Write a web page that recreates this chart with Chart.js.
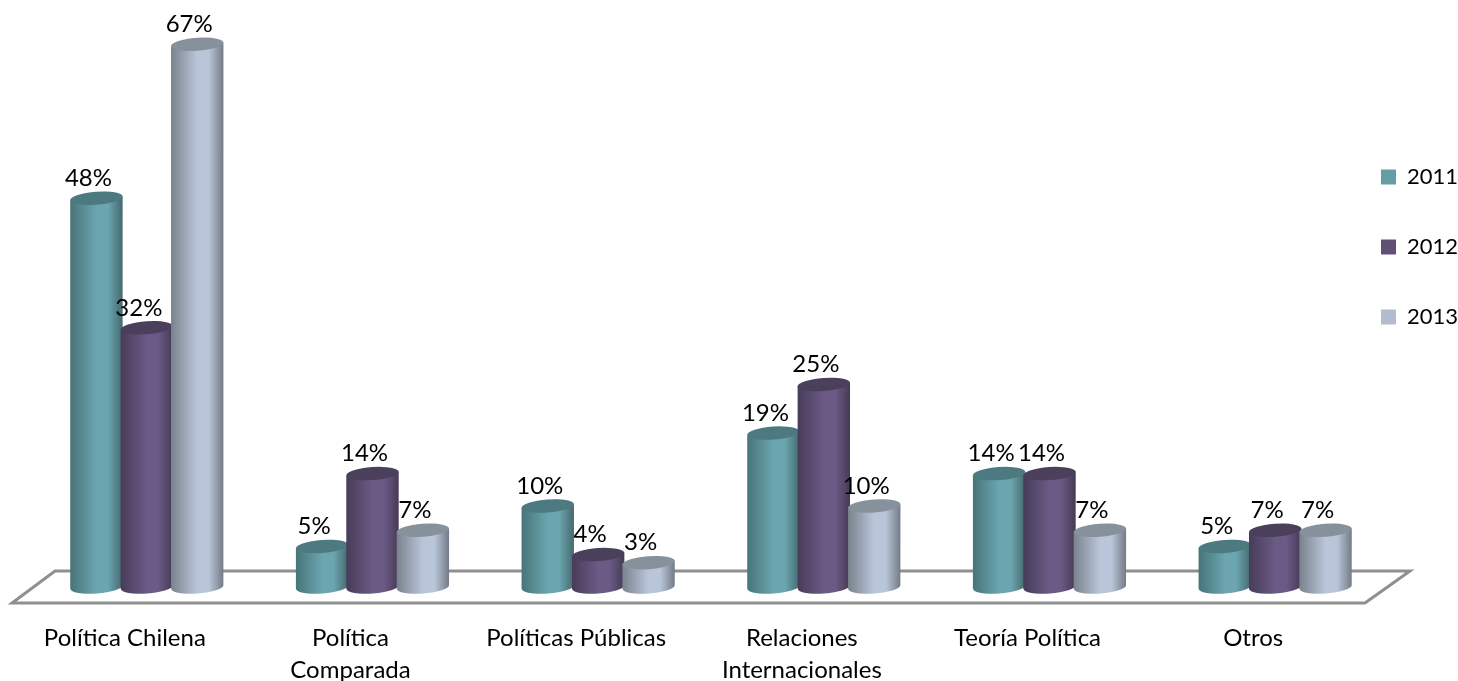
<!DOCTYPE html>
<html>
<head>
<meta charset="utf-8">
<title>Chart</title>
<script src="https://cdn.jsdelivr.net/npm/chart.js@4"></script>
<style>
    html, body { margin: 0; padding: 0; background: #ffffff; }
    canvas { display: block; }
</style>
</head>
<body>
<canvas id="barChart" width="1458" height="681"></canvas>
<script>
const categories = ['Política Chilena', ['Política', 'Comparada'], 'Políticas Públicas',
    ['Relaciones', 'Internacionales'], 'Teoría Política', 'Otros'];
const values2011 = [48, 5, 10, 19, 14, 5];
const values2012 = [32, 14, 4, 25, 14, 7];
const values2013 = [67, 7, 3, 10, 7, 7];

const FONT = 'Lato, Carlito, sans-serif';

// body gradient stops and cap colour per series
const shades = [
    { left: '#477479', mid: '#6ba5af', right: '#44696e', cap: '#4c7a80' },
    { left: '#473c59', mid: '#6b5a85', right: '#453a55', cap: '#4b405c' },
    { left: '#7a828c', mid: '#b9c6da', right: '#737b85', cap: '#87919c' }
];

// floor is a parallelogram around the zero line
function drawFloor(chart) {
    const { ctx, chartArea, scales } = chart;
    const y0 = scales.y.getPixelForValue(0);
    ctx.save();
    ctx.strokeStyle = '#8f8f8f';
    ctx.lineWidth = 3;
    ctx.lineJoin = 'miter';
    ctx.beginPath();
    ctx.moveTo(chartArea.left + 21, y0 - 16);
    ctx.lineTo(chartArea.right + 22, y0 - 16);
    ctx.lineTo(chartArea.right - 23, y0 + 16);
    ctx.lineTo(chartArea.left - 22, y0 + 16);
    ctx.closePath();
    ctx.stroke();
    ctx.restore();
}

// cylinder built on the geometry of one bar element
function drawCylinder(ctx, bar, shade) {
    const rx = bar.width / 2 + 1;
    const ry = 6.5;
    const tilt = -4 * Math.PI / 180;
    const dy = Math.sin(tilt) * rx;

    const grad = ctx.createLinearGradient(bar.x - rx, 0, bar.x + rx, 0);
    grad.addColorStop(0, shade.left);
    grad.addColorStop(0.5, shade.mid);
    grad.addColorStop(0.72, shade.mid);
    grad.addColorStop(1, shade.right);

    ctx.fillStyle = grad;
    ctx.beginPath();
    ctx.moveTo(bar.x - rx, bar.y - dy);
    ctx.lineTo(bar.x - rx, bar.base - dy);
    ctx.ellipse(bar.x, bar.base, rx, ry, tilt, Math.PI, 0, true);
    ctx.lineTo(bar.x + rx, bar.y + dy);
    ctx.closePath();
    ctx.fill();

    ctx.fillStyle = shade.cap;
    ctx.beginPath();
    ctx.ellipse(bar.x, bar.y, rx, ry, tilt, 0, Math.PI * 2);
    ctx.fill();
}

const cylinderPlugin = {
    id: 'cylinders',
    afterLayout(chart) {
        // legend stays inside the plot, above the floor corner
        const legend = chart.legend;
        legend.left = 1333;
        legend.right = 1458;
        legend.top = 118;
        legend.bottom = 420;
    },
    beforeDatasetDraw() {
        return false;
    },
    afterDatasetsDraw(chart) {
        const ctx = chart.ctx;
        drawFloor(chart);
        const metas = chart.data.datasets.map((d, i) => chart.getDatasetMeta(i));

        categories.forEach((c, i) => {
            metas.forEach((meta, s) => drawCylinder(ctx, meta.data[i], shades[s]));
        });

        ctx.save();
        ctx.fillStyle = '#000000';
        ctx.font = '24px ' + FONT;
        ctx.textAlign = 'center';
        ctx.textBaseline = 'middle';
        metas.forEach((meta, s) => {
            meta.data.forEach((bar, i) => {
                ctx.fillText(chart.data.datasets[s].data[i] + '%', bar.x - 8, bar.y - 20);
            });
        });
        ctx.restore();
    }
};

new Chart(document.getElementById('barChart'), {
    type: 'bar',
    data: {
        labels: categories,
        datasets: [
            { label: '2011', data: values2011, backgroundColor: '#659ca6' },
            { label: '2012', data: values2012, backgroundColor: '#5f5074' },
            { label: '2013', data: values2013, backgroundColor: '#b2bccc' }
        ]
    },
    plugins: [cylinderPlugin],
    options: {
        responsive: false,
        animation: false,
        categoryPercentage: 0.67,
        barPercentage: 1,
        layout: {
            padding: { left: 34, right: 70, top: 20, bottom: 0 }
        },
        plugins: {
            title: { display: false },
            tooltip: { enabled: false },
            legend: {
                position: 'chartArea',
                align: 'start',
                labels: {
                    boxWidth: 15,
                    boxHeight: 15,
                    padding: 48,
                    color: '#000000',
                    font: { family: FONT, size: 22 }
                }
            }
        },
        scales: {
            y: {
                display: false,
                min: 0,
                max: 70
            },
            x: {
                afterFit(scale) { scale.height = 94; },
                grid: { display: false },
                border: { display: false },
                ticks: {
                    color: '#000000',
                    font: { family: FONT, size: 24, lineHeight: 1.35 },
                    padding: 27,
                    labelOffset: -22,
                    maxRotation: 0,
                    autoSkip: false
                }
            }
        }
    }
});
</script>
</body>
</html>
